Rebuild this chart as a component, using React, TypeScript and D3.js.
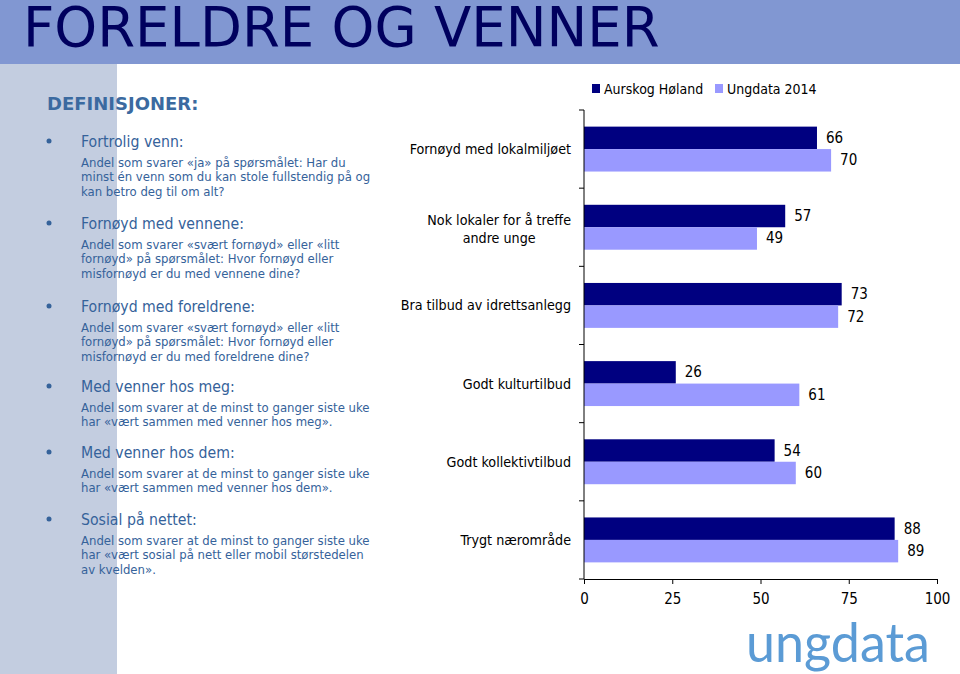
import React, { useEffect, useRef } from 'react';
import * as d3 from 'd3';

const categories = [
  'Fornøyd med lokalmiljøet',
  'Nok lokaler for å treffe\nandre unge',
  'Bra tilbud av idrettsanlegg',
  'Godt kulturtilbud',
  'Godt kollektivtilbud',
  'Trygt nærområde',
];
const seriesNames = ['Aurskog Høland', 'Ungdata 2014'];
const aurskog = [66, 57, 73, 26, 54, 88];
const ungdata = [70, 49, 72, 61, 60, 89];
const xTicks = [0, 25, 50, 75, 100];

const definitions = [
  { title: 'Fortrolig venn:', lines: ['Andel som svarer «ja» på spørsmålet: Har du', 'minst én venn som du kan stole fullstendig på og', 'kan betro deg til om alt?'] },
  { title: 'Fornøyd med vennene:', lines: ['Andel som svarer «svært fornøyd» eller «litt', 'fornøyd» på spørsmålet: Hvor fornøyd eller', 'misfornøyd er du med vennene dine?'] },
  { title: 'Fornøyd med foreldrene:', lines: ['Andel som svarer «svært fornøyd» eller «litt', 'fornøyd» på spørsmålet: Hvor fornøyd eller', 'misfornøyd er du med foreldrene dine?'] },
  { title: 'Med venner hos meg:', lines: ['Andel som svarer at de minst to ganger siste uke', 'har «vært sammen med venner hos meg».'] },
  { title: 'Med venner hos dem:', lines: ['Andel som svarer at de minst to ganger siste uke', 'har «vært sammen med venner hos dem».'] },
  { title: 'Sosial på nettet:', lines: ['Andel som svarer at de minst to ganger siste uke', 'har «vært sosial på nett eller mobil størstedelen', 'av kvelden».'] },
];
const defTops = [141, 223, 306, 386, 452, 519];

const colors = ['#000080', '#9999ff'];
const FONT = '"DejaVu Sans Condensed", "DejaVu Sans", sans-serif';
const WIDE = '"DejaVu Sans", sans-serif';
const textBlue = '#35629a';

const App = () => {
  const ref = useRef<SVGSVGElement>(null);

  useEffect(() => {
    if (!ref.current) return;
    const svg = d3.select(ref.current);
    svg.selectAll('*').remove();

    // background panels
    svg.append('rect').attr('x', 0).attr('y', 0).attr('width', 960).attr('height', 674).attr('fill', '#fff');
    svg.append('rect').attr('x', 0).attr('y', 0).attr('width', 960).attr('height', 64).attr('fill', '#8197d2');
    svg.append('rect').attr('x', 0).attr('y', 64).attr('width', 117).attr('height', 610).attr('fill', '#c3cde0');

    svg.append('text')
      .attr('x', 23).attr('y', 46)
      .attr('font-family', WIDE).attr('font-size', 54.5)
      .attr('fill', '#00005e')
      .text('FORELDRE OG VENNER');

    svg.append('text')
      .attr('x', 47).attr('y', 103)
      .attr('dominant-baseline', 'central')
      .attr('font-family', WIDE).attr('font-size', 18).attr('font-weight', 'bold')
      .attr('fill', '#3b6aa0')
      .text('DEFINISJONER:');

    // definitions list
    definitions.forEach((d, i) => {
      const top = defTops[i];
      svg.append('circle').attr('cx', 49).attr('cy', top).attr('r', 2.5).attr('fill', textBlue);
      svg.append('text')
        .attr('x', 81).attr('y', top)
        .attr('dominant-baseline', 'central')
        .attr('font-family', FONT).attr('font-size', 15.7)
        .attr('fill', textBlue)
        .text(d.title);
      d.lines.forEach((l, j) => {
        svg.append('text')
          .attr('x', 81).attr('y', top + 21 + j * 14.5)
          .attr('dominant-baseline', 'central')
          .attr('font-family', FONT).attr('font-size', 13)
          .attr('fill', textBlue)
          .text(l);
      });
    });

    // chart
    const x = d3.scaleLinear().domain([0, 100]).range([584, 937]);
    const y = d3.scaleBand().domain(categories).range([110, 579]).padding(0);
    const ySub = d3.scaleBand().domain(seriesNames).range([0, y.bandwidth()]).paddingInner(0).paddingOuter(0.74);

    const data = categories.map((c, i) => ({ c, vals: [aurskog[i], ungdata[i]] }));

    const g = svg.append('g');
    data.forEach(d => {
      d.vals.forEach((v, k) => {
        const yy = (y(d.c) as number) + (ySub(seriesNames[k]) as number);
        g.append('rect')
          .attr('x', x(0)).attr('y', yy)
          .attr('width', x(v) - x(0)).attr('height', ySub.bandwidth())
          .attr('fill', colors[k]);
        g.append('text')
          .attr('x', x(v) + 9).attr('y', yy + ySub.bandwidth() / 2)
          .attr('dominant-baseline', 'central')
          .attr('font-family', FONT).attr('font-size', 15)
          .attr('fill', '#000')
          .text(v);
      });
    });

    // y axis with ticks at category boundaries
    const bounds = categories.map(c => y(c) as number).concat([579]);
    g.append('line').attr('x1', 584).attr('x2', 584).attr('y1', 110).attr('y2', 579).attr('stroke', '#000');
    bounds.forEach(b => {
      g.append('line').attr('x1', 579).attr('x2', 584).attr('y1', b).attr('y2', b).attr('stroke', '#000');
    });

    // x axis
    const xAxis = d3.axisBottom(x).tickValues(xTicks).tickSize(5).tickSizeOuter(0).tickPadding(9);
    const ax = g.append('g').attr('transform', 'translate(0,579)').call(xAxis);
    ax.select('.domain').attr('stroke', '#000');
    ax.selectAll('.tick line').attr('stroke', '#000');
    ax.selectAll('.tick text').attr('font-family', FONT).attr('font-size', 15).attr('fill', '#000');

    // category labels
    categories.forEach(c => {
      const lines = c.split('\n');
      const cy = (y(c) as number) + y.bandwidth() / 2;
      const t = g.append('text')
        .attr('font-family', FONT).attr('font-size', 14.2)
        .attr('fill', '#000');
      if (lines.length === 1) {
        t.attr('x', 571).attr('y', cy).attr('text-anchor', 'end').attr('dominant-baseline', 'central').text(c);
      } else {
        const tmp = t.append('tspan').text(lines[0]);
        const w = (tmp.node() as SVGTSpanElement).getComputedTextLength();
        tmp.remove();
        const mid = 571 - w / 2;
        lines.forEach((l, j) => {
          t.append('tspan')
            .attr('x', mid).attr('y', cy - 7 + j * 18)
            .attr('text-anchor', 'middle')
            .attr('dominant-baseline', 'central')
            .text(l);
        });
      }
    });

    // legend
    seriesNames.forEach((s, k) => {
      const lx = [592, 715][k];
      svg.append('rect').attr('x', lx).attr('y', 84).attr('width', 8).attr('height', 9).attr('fill', colors[k]);
      svg.append('text')
        .attr('x', lx + 12).attr('y', 89)
        .attr('dominant-baseline', 'central')
        .attr('font-family', FONT).attr('font-size', 14)
        .attr('fill', '#000')
        .text(s);
    });

    // logo
    svg.append('text')
      .attr('x', 746).attr('y', 662)
      .attr('font-family', 'Lato, "Open Sans", sans-serif').attr('font-weight', 400)
      .attr('font-size', 55)
      .attr('textLength', 184).attr('lengthAdjust', 'spacingAndGlyphs')
      .attr('fill', '#5b9bd5')
      .text('ungdata');
  }, []);

  return (
    <svg ref={ref} width={960} height={674} style={{ position: 'absolute', left: 0, top: 0 }} />
  );
};

export default App;
